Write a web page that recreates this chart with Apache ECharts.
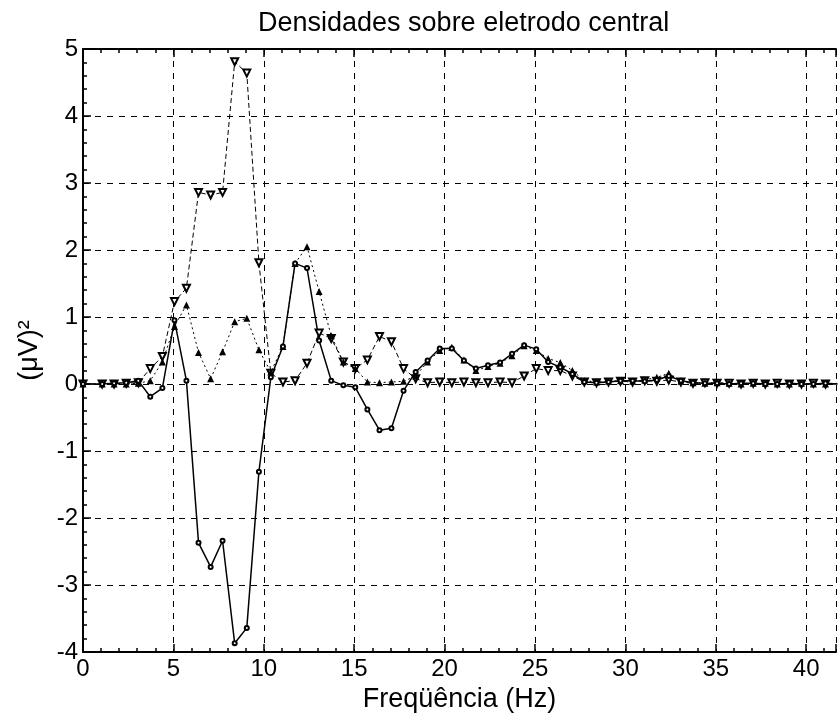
<!DOCTYPE html>
<html>
<head>
<meta charset="utf-8">
<script src="https://cdn.jsdelivr.net/npm/echarts@6/dist/echarts.min.js"></script>
<style>
  html, body { margin: 0; padding: 0; background: #fff; }
  #chart { width: 839px; height: 718px; }
</style>
</head>
<body>
<div id="chart"></div>
<script>
// frequency bins (Hz)
const freq = [0, 1.06, 1.72, 2.39, 3.06, 3.72, 4.39, 5.06, 5.72, 6.39,
  7.06, 7.72, 8.39, 9.06, 9.73, 10.39, 11.06, 11.73, 12.39, 13.06,
  13.73, 14.40, 15.06, 15.73, 16.40, 17.06, 17.73, 18.40, 19.06, 19.73,
  20.40, 21.07, 21.73, 22.40, 23.07, 23.73, 24.40, 25.07, 25.73, 26.40,
  27.07, 27.73, 28.40, 29.07, 29.73, 30.40, 31.07, 31.74, 32.40, 33.07,
  33.74, 34.40, 35.07, 35.74, 36.40, 37.07, 37.74, 38.40, 39.07, 39.74,
  40.40, 41.07, 41.74];

// solid line
const solidVals = [0, 0, 0.01, 0.02, 0.05, -0.19, -0.06, 0.95, 0.05, -2.37,
  -2.73, -2.34, -3.87, -3.64, -1.31, 0.10, 0.56, 1.80, 1.73, 0.65,
  0.05, -0.02, -0.05, -0.38, -0.69, -0.66, -0.10, 0.18, 0.35, 0.53,
  0.53, 0.35, 0.23, 0.28, 0.32, 0.45, 0.58, 0.52, 0.33, 0.25,
  0.15, 0.03, 0.02, 0.03, 0.05, 0.05, 0.04, 0.06, 0.12, 0.05,
  0.02, 0.01, 0.01, 0.00, 0.01, 0.01, 0.00, 0.00, 0.01, 0.00,
  0.00, 0.01, 0.00];

// dashed line, open down-triangles
const dashedVals = [0, 0, 0, 0.01, 0.02, 0.23, 0.41, 1.23, 1.43, 2.86,
  2.82, 2.86, 4.81, 4.64, 1.81, 0.16, 0.03, 0.05, 0.31, 0.76,
  0.68, 0.33, 0.23, 0.36, 0.71, 0.63, 0.23, 0.08, 0.02, 0.03,
  0.02, 0.03, 0.02, 0.02, 0.03, 0.02, 0.12, 0.23, 0.20, 0.20,
  0.12, 0.03, 0.02, 0.03, 0.04, 0.03, 0.05, 0.04, 0.06, 0.03,
  0.01, 0.02, 0.01, 0.01, 0.00, 0.01, 0.00, 0.01, 0.00, 0.00,
  0.01, 0.00, 0.00];

// dotted line, filled up-triangles
const dottedVals = [0, 0, 0, 0, 0.01, 0.05, 0.33, 0.86, 1.18, 0.47,
  0.08, 0.48, 0.93, 0.98, 0.51, 0.18, 0.56, 1.80, 2.05, 1.38,
  0.72, 0.33, 0.23, 0.03, 0.02, 0.03, 0.04, 0.12, 0.33, 0.50,
  0.55, 0.36, 0.20, 0.26, 0.31, 0.42, 0.57, 0.50, 0.38, 0.32,
  0.20, 0.05, 0.03, 0.04, 0.05, 0.04, 0.06, 0.10, 0.16, 0.04,
  0.02, 0.01, 0.02, 0.01, 0.00, 0.01, 0.01, 0.00, 0.00, 0.01,
  0.00, 0.00, 0.01];

const xTicks = [0, 5, 10, 15, 20, 25, 30, 35, 40];
const xMax = 41.65; // right edge of the (cropped) plot

const pairs = (vals) => vals.map((v, i) => [freq[i], v]);

const chart = echarts.init(document.getElementById('chart'));
const font = "'Liberation Sans', Arial, sans-serif";
const black = '#000';

// major x axis (labels, grid) and a minor one (1 Hz ticks only), top and bottom
const xMajor = (position) => ({
  type: 'value',
  min: 0,
  max: xMax,
  interval: 5,
  position,
  axisLine: { show: true, onZero: false, lineStyle: { color: black, width: 2 } },
  axisTick: { show: true, inside: true, length: 8, lineStyle: { color: black, width: 1.5 } },
  axisLabel: { show: false },
  splitLine: { show: false },
});
const xMinor = (position) => ({
  type: 'value',
  min: 0,
  max: xMax,
  interval: 1,
  position,
  axisLine: { show: false, onZero: false },
  axisTick: { show: true, inside: true, length: 4, lineStyle: { color: black, width: 1.5 } },
  axisLabel: { show: false },
  splitLine: { show: false },
});

const bottomAxis = xMajor('bottom');
bottomAxis.name = 'Freqüência (Hz)';
bottomAxis.nameLocation = 'middle';
bottomAxis.nameGap = 30;
bottomAxis.nameTextStyle = { fontFamily: font, fontSize: 27, color: black };
bottomAxis.axisLabel = {
  fontFamily: font, fontSize: 24, color: black, margin: 5,
  formatter: (v) => (xTicks.includes(v) ? String(v) : ''),
};
bottomAxis.splitLine = { show: true, lineStyle: { color: black, type: [6, 6], width: 1 } };

const option = {
  backgroundColor: '#fff',
  animation: false,
  title: {
    text: 'Densidades sobre eletrodo central',
    left: 253,
    top: 5,
    textStyle: { fontFamily: font, fontSize: 27, fontWeight: 'normal', color: black },
  },
  grid: { left: 83, top: 49, bottom: 66, right: 0 },
  xAxis: [bottomAxis, xMinor('bottom'), xMajor('top'), xMinor('top')],
  yAxis: {
    type: 'value',
    min: -4,
    max: 5,
    interval: 1,
    axisLine: { show: true, onZero: false, lineStyle: { color: black, width: 2 } },
    axisTick: { show: true, inside: true, length: 8, lineStyle: { color: black, width: 1.5 } },
    minorTick: { show: true, splitNumber: 5, length: 4, lineStyle: { color: black, width: 1.5 } },
    name: '(μV)²',
    nameLocation: 'middle',
    nameGap: 40,
    nameTextStyle: { fontFamily: font, fontSize: 27, color: black },
    axisLabel: { fontFamily: font, fontSize: 24, color: black, margin: 5 },
    splitLine: { show: true, lineStyle: { color: black, type: [6, 6], width: 1 } },
  },
  series: [
    {
      name: 'dashed',
      type: 'line',
      data: pairs(dashedVals),
      symbol: 'emptyTriangle',
      symbolRotate: 180,
      symbolSize: 7,
      lineStyle: { color: black, width: 1, type: [5, 3] },
      itemStyle: { color: black, borderWidth: 1.5 },
    },
    {
      name: 'dotted',
      type: 'line',
      data: pairs(dottedVals),
      symbol: 'triangle',
      symbolSize: 7,
      lineStyle: { color: black, width: 1, type: [2, 3] },
      itemStyle: { color: black },
    },
    {
      name: 'solid',
      type: 'line',
      data: pairs(solidVals),
      symbol: 'emptyCircle',
      symbolSize: 4,
      lineStyle: { color: black, width: 1.5 },
      itemStyle: { color: black, borderWidth: 1 },
    },
  ],
};

chart.setOption(option);
</script>
</body>
</html>
